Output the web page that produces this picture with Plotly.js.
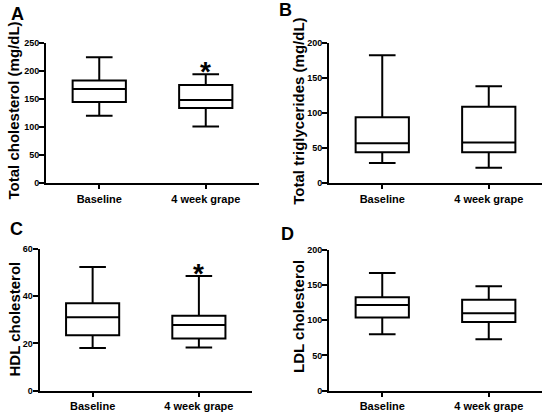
<!DOCTYPE html>
<html>
<head>
<meta charset="utf-8">
<script src="https://cdn.plot.ly/plotly-3.0.1.min.js"></script>
<style>html,body{margin:0;padding:0;background:#fff;}#chart{width:550px;height:416px;}</style>
</head>
<body>
<div id="chart"></div>
<script>
// Categories
const categories = ['Baseline', '4 week grape'];

// Panel A: Total cholesterol (mg/dL)
const tcLower  = [120, 101];
const tcQ1     = [144.5, 134];
const tcMedian = [167.5, 148];
const tcQ3     = [183, 175];
const tcUpper  = [224, 194];

// Panel B: Total triglycerides (mg/dL)
const tgLower  = [29, 22];
const tgQ1     = [44, 44];
const tgMedian = [57, 58];
const tgQ3     = [94, 109];
const tgUpper  = [182, 138];

// Panel C: HDL cholesterol
const hdlLower  = [18, 18.3];
const hdlQ1     = [23.4, 22.1];
const hdlMedian = [31, 27.8];
const hdlQ3     = [37, 31.7];
const hdlUpper  = [52.3, 48.5];

// Panel D: LDL cholesterol
const ldlLower  = [80, 73];
const ldlQ1     = [104, 97.5];
const ldlMedian = [121.5, 110];
const ldlQ3     = [132.5, 129];
const ldlUpper  = [167, 148];

// Significance markers (y positions, in data units)
const sigA = 209;
const sigC = 52;

const W = 550, H = 416;
const FONT = 'Arial, Liberation Sans, sans-serif';

function box(lo, q1, med, q3, hi, xa, ya) {
  return {
    type: 'box', x: categories, lowerfence: lo, q1: q1, median: med, q3: q3, upperfence: hi,
    xaxis: xa, yaxis: ya, boxpoints: false, fillcolor: 'rgba(255,255,255,0)',
    line: {color: '#000', width: 2}, width: 0.5, whiskerwidth: 0.5, hoverinfo: 'skip'
  };
}

const data = [
  box(tcLower, tcQ1, tcMedian, tcQ3, tcUpper, 'x', 'y'),
  box(tgLower, tgQ1, tgMedian, tgQ3, tgUpper, 'x2', 'y2'),
  box(hdlLower, hdlQ1, hdlMedian, hdlQ3, hdlUpper, 'x3', 'y3'),
  box(ldlLower, ldlQ1, ldlMedian, ldlQ3, ldlUpper, 'x4', 'y4')
];

function xax(x0, x1, anchor) {
  return {
    domain: [x0 / W, x1 / W], anchor: anchor, type: 'category', range: [-0.5, 1.5],
    tickmode: 'array', tickvals: categories, ticktext: categories.map(c => '<b>' + c + '</b>'),
    showline: true, linecolor: '#000', linewidth: 2, showgrid: false, zeroline: false,
    ticks: 'outside', ticklen: 4, tickwidth: 2, tickcolor: '#000',
    tickfont: {family: FONT, size: 11, color: '#000'}, fixedrange: true
  };
}
function yax(top, bottom, anchor, max, dtick) {
  return {
    domain: [1 - bottom / H, 1 - top / H], anchor: anchor, range: [0, max], dtick: dtick,
    tickprefix: '<b>', ticksuffix: '</b>', ticklabelstandoff: -2,
    showline: true, linecolor: '#000', linewidth: 2, showgrid: false, zeroline: false,
    ticks: 'outside', ticklen: 5, tickwidth: 2, tickcolor: '#000',
    tickfont: {family: FONT, size: 9, color: '#000'}, fixedrange: true
  };
}

function ytitle(text, xpx, ypx) {
  return {text: '<b>' + text + '</b>', xref: 'paper', yref: 'paper', x: xpx / W, y: 1 - ypx / H,
    xanchor: 'center', yanchor: 'middle', textangle: -90, showarrow: false,
    font: {family: FONT, size: 15, color: '#000'}};
}
function letter(text, xpx, ypx) {
  return {text: '<b>' + text + '</b>', xref: 'paper', yref: 'paper', x: xpx / W, y: 1 - ypx / H,
    xanchor: 'center', yanchor: 'middle', showarrow: false,
    font: {family: FONT, size: 18, color: '#000'}};
}
function star(xa, ya, yv) {
  return {text: '<b>*</b>', xref: xa, yref: ya, x: categories[1], y: yv, xanchor: 'center', yanchor: 'middle',
    showarrow: false, yshift: -6, font: {family: FONT, size: 28, color: '#000'}};
}

const layout = {
  width: W, height: H, margin: {l: 0, r: 0, t: 0, b: 0},
  paper_bgcolor: '#fff', plot_bgcolor: 'rgba(0,0,0,0)', showlegend: false,
  xaxis: xax(46, 259, 'y'), yaxis: yax(42.7, 183.3, 'x', 250, 50),
  xaxis2: xax(329, 542, 'y2'), yaxis2: yax(42.7, 183.3, 'x2', 200, 50),
  xaxis3: xax(39.5, 252, 'y3'), yaxis3: yax(248.7, 390.7, 'x3', 60, 20),
  xaxis4: xax(329, 542, 'y4'), yaxis4: yax(249.7, 390.7, 'x4', 200, 50),
  annotations: [
    ytitle('Total cholesterol (mg/dL)', 13, 110.5),
    ytitle('Total triglycerides (mg/dL)', 299, 110.7),
    ytitle('HDL cholesterol', 14, 319.5),
    ytitle('LDL cholesterol', 298, 317),
    letter('A', 17, 13.5), letter('B', 285, 10), letter('C', 16.5, 228.5), letter('D', 287, 234),
    star('x', 'y', sigA), star('x3', 'y3', sigC)
  ]
};

Plotly.newPlot('chart', data, layout, {staticPlot: true, displayModeBar: false});
</script>
</body>
</html>
